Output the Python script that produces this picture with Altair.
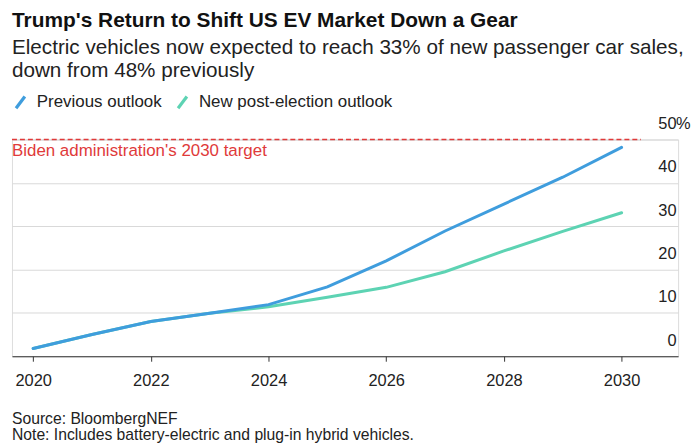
import altair as alt
import pandas as pd

years = [2020, 2021, 2022, 2023, 2024, 2025, 2026, 2027, 2028, 2029, 2030]
previous = [1.8, 5.0, 8.0, 9.9, 11.9, 16.0, 22.0, 28.9, 35.1, 41.3, 48.2]
new = [1.8, 5.0, 8.0, 9.9, 11.4, 13.6, 15.9, 19.5, 24.3, 28.8, 33.1]
series_names = ["Previous outlook", "New post-election outlook"]
series_colors = ["#3f9ddd", "#5dd3b3"]
target_value = 50
target_label = "Biden administration's 2030 target"
x_domain = [2019.64, 2030.96]
y_ticks = [0, 10, 20, 30, 40, 50]
x_ticks = [2020, 2022, 2024, 2026, 2028, 2030]

title = "Trump's Return to Shift US EV Market Down a Gear"
subtitle = ["Electric vehicles now expected to reach 33% of new passenger car sales,",
            "down from 48% previously"]
source = "Source: BloombergNEF"
note = "Note: Includes battery-electric and plug-in hybrid vehicles."

FONT = "Liberation Sans"

rows = []
for y, p, n in zip(years, previous, new):
    rows.append({"year": y, "value": p, "series": series_names[0]})
    rows.append({"year": y, "value": n, "series": series_names[1]})
df = pd.DataFrame(rows)

W, H = 670, 218

xscale = alt.Scale(domain=x_domain, nice=False, zero=False)
yscale = alt.Scale(domain=[0, 50], nice=False)
color = alt.Color(
    "series:N",
    scale=alt.Scale(domain=series_names, range=series_colors),
    legend=alt.Legend(
        title=None, orient="none", legendX=0, legendY=-46, direction="horizontal",
        symbolType="M-0.75,1L0.75,-1", symbolSize=140, symbolStrokeWidth=3.2,
        labelFontSize=17, labelFont=FONT, labelColor="#222222", labelLimit=400,
        labelOffset=8, columnPadding=9, padding=0,
    ),
)

base = alt.Chart(df)

x_enc = alt.X("year:Q", scale=xscale, title=None,
              axis=alt.Axis(values=x_ticks, format="d", grid=False, tickSize=5,
                            tickColor="#333333", domainColor="#333333", domainWidth=1,
                            labelFontSize=16.5, labelFont=FONT, labelColor="#222222",
                            labelPadding=11, labelFlush=False))
y_enc = alt.Y("value:Q", scale=yscale, title=None,
              axis=alt.Axis(orient="right", values=y_ticks, grid=True, gridColor="#d9d9d9",
                            gridWidth=1, ticks=False, domain=False, labelAlign="right",
                            labelPadding=-2, labelBaseline="alphabetic", labelOffset=-11,
                            labelFontSize=16.5, labelFont=FONT, labelColor="#222222"))

green = base.transform_filter(alt.datum.series == series_names[1]).mark_line(
    strokeWidth=3, strokeCap="round").encode(x=x_enc, y=y_enc, color=color)
blue = base.transform_filter(alt.datum.series == series_names[0]).mark_line(
    strokeWidth=3, strokeCap="round").encode(x=x_enc, y=y_enc, color=color)

target_df = pd.DataFrame({"x": [x_domain[0]], "x2": [2030.33], "y": [target_value],
                          "label": [target_label]})
rule = alt.Chart(target_df).mark_rule(color="#e03a3a", strokeWidth=1.5, strokeDash=[5, 3]).encode(
    x=alt.X("x:Q", scale=xscale), x2="x2:Q", y=alt.Y("y:Q", scale=yscale))
rule_text = alt.Chart(target_df).mark_text(
    align="left", baseline="alphabetic", dy=17, fontSize=17, font=FONT, color="#e03a3a"
).encode(x=alt.X("x:Q", scale=xscale), y=alt.Y("y:Q", scale=yscale), text="label:N")

pct_df = pd.DataFrame({"y": [y_ticks[-1]], "t": ["%"]})
pct = alt.Chart(pct_df).mark_text(
    align="left", baseline="alphabetic", dy=-11, fontSize=16.5, font=FONT, color="#222222"
).encode(x=alt.value(W - 2), y=alt.Y("y:Q", scale=yscale), text="t:N")

def txt(s, y, size, bold=False, color="#222222"):
    d = pd.DataFrame({"t": [s]})
    return alt.Chart(d).mark_text(
        align="left", baseline="alphabetic", fontSize=size, font=FONT,
        fontWeight="bold" if bold else "normal", color=color
    ).encode(x=alt.value(0), y=alt.value(y), text="t:N")

top = 139.5
texts = [
    txt(title, 26 - top, 21, bold=True, color="#111111"),
    txt(subtitle[0], 53 - top, 20.8),
    txt(subtitle[1], 77 - top, 20.8),
    txt(source, 426 - top, 15.8),
    txt(note, 442 - top, 15.8),
]

chart = alt.layer(green, blue, rule, rule_text, pct, *texts).properties(
    width=W, height=H,
    autosize=alt.AutoSizeParams(type="none"),
    padding={"left": 4, "top": 131, "right": 14, "bottom": 89},
).configure_view(stroke=None).configure(background="white")

chart.save("out.html", embed_options={"renderer": "svg", "actions": False})
